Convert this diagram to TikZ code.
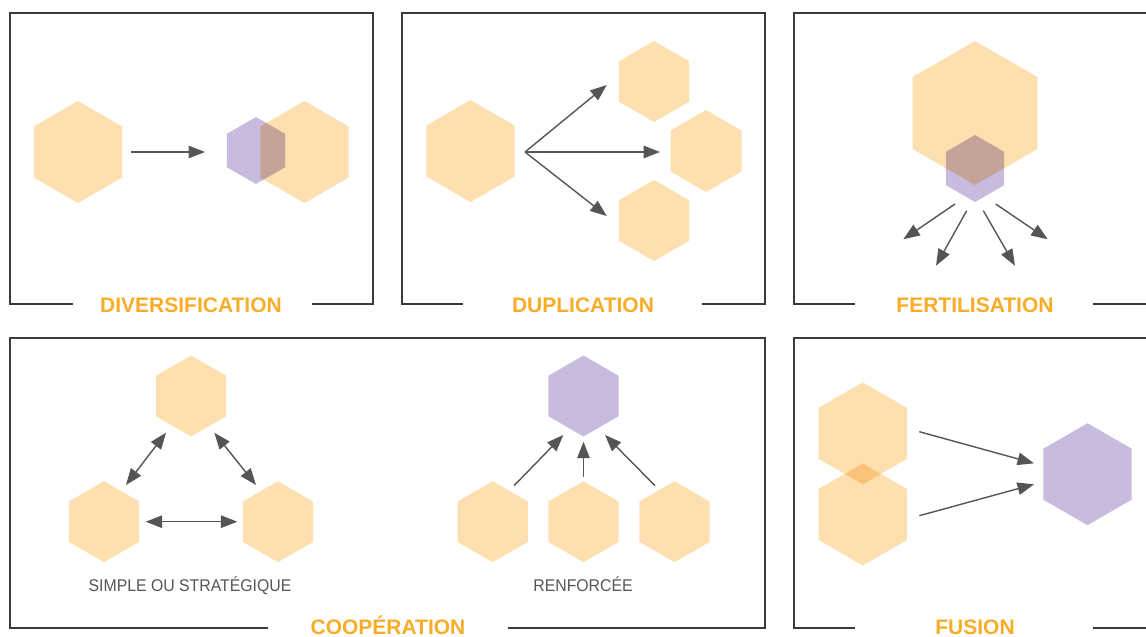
\documentclass[tikz,border=0pt]{standalone}
\usepackage{fontspec}
\setmainfont{Liberation Sans}
\newfontfamily\narrowsans[FakeStretch=0.93]{Liberation Sans}
\usetikzlibrary{shapes.geometric,arrows.meta}

\definecolor{hexorange}{RGB}{253,223,176}
\definecolor{hexpurple}{RGB}{200,187,221}
\definecolor{framegray}{RGB}{58,58,58}
\definecolor{arrowgray}{RGB}{85,85,85}
\definecolor{titleorange}{RGB}{249,172,40}
\definecolor{subgray}{RGB}{85,85,92}

\tikzset{
  hex/.style={regular polygon, regular polygon sides=6, regular polygon rotate=30,
    inner sep=0pt, outer sep=0pt, draw=none, minimum size=#1},
  hexo/.style={hex=#1, fill=hexorange},
  hexp/.style={hex=#1, fill=hexpurple},
  frame/.style={draw=framegray, line width=1.8pt},
  tip/.tip={Triangle[length=16.5pt,width=12.5pt]},
  arr/.style={draw=arrowgray, line width=1.4pt, -tip},
  dblarr/.style={draw=arrowgray, line width=1.4pt, tip-tip},
  title/.style={anchor=base, text=titleorange, font=\fontsize{21}{21}\selectfont\bfseries,
    inner sep=0pt},
  subtitle/.style={anchor=base, text=subgray, font=\fontsize{17}{17}\selectfont\narrowsans,
    inner sep=0pt}
}

\begin{document}
\begin{tikzpicture}[x=1pt, y=-1pt]
\useasboundingbox (0,0) rectangle (1146,637);

% ---------- hexagons (multiplied so that overlaps darken) ----------
\begin{scope}[blend mode=multiply]
  % diversification
  \node[hexo=102] (d1)  at (78,152) {};
  \node[hexp=67]  (d2p) at (256,150.5) {};
  \node[hexo=102] (d2o) at (304.5,152) {};
  % duplication
  \node[hexo=102] (u0) at (470.5,151) {};
  \node[hexo=81]  (u1) at (654,81.5) {};
  \node[hexo=82]  (u2) at (706,151) {};
  \node[hexo=81]  (u3) at (654,220.5) {};
  % fertilisation
  \node[hexo=144] (f0) at (975,113) {};
  \node[hexp=67]  (f1) at (975,168.5) {};
  % cooperation, simple
  \node[hexo=81] (c1) at (191,396) {};
  \node[hexo=81] (c2) at (104,521.7) {};
  \node[hexo=81] (c3) at (278,521.7) {};
  % cooperation, reinforced
  \node[hexp=81] (r0) at (583.5,396) {};
  \node[hexo=81] (r1) at (492.8,521.7) {};
  \node[hexo=81] (r2) at (583.5,521.7) {};
  \node[hexo=81] (r3) at (674.5,521.7) {};
  % fusion
  \node[hexo=102] (g1) at (862.8,433.3) {};
  \node[hexo=102] (g2) at (862.8,514.5) {};
  \node[hexp=102] (g3) at (1087.5,474.2) {};
\end{scope}

% ---------- arrow end points ----------
\coordinate (dA) at (131,152);      \coordinate (dB) at (205,152);
\coordinate (uS) at (525,152);
\coordinate (uT1) at (606.7,85);    \coordinate (uT2) at (660,152);
\coordinate (uT3) at (606.7,216);
\coordinate (fS1) at (955,204);     \coordinate (fT1) at (903.3,239.3);
\coordinate (fS2) at (966.7,210.7); \coordinate (fT2) at (936,265.7);
\coordinate (fS3) at (983.3,210.7); \coordinate (fT3) at (1015,265.7);
\coordinate (fS4) at (995.7,204);   \coordinate (fT4) at (1047.7,239.3);
\coordinate (cL1) at (166,432.7);   \coordinate (cL2) at (126,485);
\coordinate (cR1) at (214.3,432.7); \coordinate (cR2) at (256,485);
\coordinate (cH1) at (145.7,521.7); \coordinate (cH2) at (237.3,521.7);
\coordinate (rS1) at (514,485.7);   \coordinate (rT1) at (563.3,435);
\coordinate (rS2) at (583.5,476.7); \coordinate (rT2) at (583.5,441.7);
\coordinate (rS3) at (655,485.7);   \coordinate (rT3) at (605,435);
\coordinate (gS1) at (919.3,431.7); \coordinate (gT1) at (1034,463.3);
\coordinate (gS2) at (919.3,515.7); \coordinate (gT2) at (1034,484.3);

% ---------- arrows ----------
\draw[arr] (dA) -- (dB);
\draw[arr] (uS) -- (uT1);
\draw[arr] (uS) -- (uT2);
\draw[arr] (uS) -- (uT3);
\draw[arr] (fS1) -- (fT1);
\draw[arr] (fS2) -- (fT2);
\draw[arr] (fS3) -- (fT3);
\draw[arr] (fS4) -- (fT4);
\draw[dblarr] (cL1) -- (cL2);
\draw[dblarr] (cR1) -- (cR2);
\draw[dblarr] (cH1) -- (cH2);
\draw[arr] (rS1) -- (rT1);
\draw[arr] (rS2) -- (rT2);
\draw[arr] (rS3) -- (rT3);
\draw[arr] (gS1) -- (gT1);
\draw[arr] (gS2) -- (gT2);

% ---------- frames, open at the bottom for the titles ----------
\draw[frame] (73,304) -- (10,304) -- (10,13) -- (373,13) -- (373,304) -- (312,304);
\draw[frame] (463,304) -- (402,304) -- (402,13) -- (765,13) -- (765,304) -- (702,304);
\draw[frame] (855,304) -- (794,304) -- (794,13) -- (1146,13);
\draw[frame] (1093,304) -- (1146,304);
\draw[frame] (268,628) -- (10,628) -- (10,338) -- (765,338) -- (765,628) -- (508,628);
\draw[frame] (855,628) -- (794,628) -- (794,338) -- (1146,338);
\draw[frame] (1093,628) -- (1146,628);

% ---------- titles ----------
\node[title] (t1) at (191,312.5) {DIVERSIFICATION};
\node[title] (t2) at (583,312.5) {DUPLICATION};
\node[title] (t3) at (975,312.5) {FERTILISATION};
\node[title] (t4) at (388,634) {COOPÉRATION};
\node[title] (t5) at (975,634) {FUSION};
\node[subtitle] (s1) at (190,591.5) {SIMPLE OU STRATÉGIQUE};
\node[subtitle] (s2) at (583,591.5) {RENFORCÉE};
\end{tikzpicture}
\end{document}
